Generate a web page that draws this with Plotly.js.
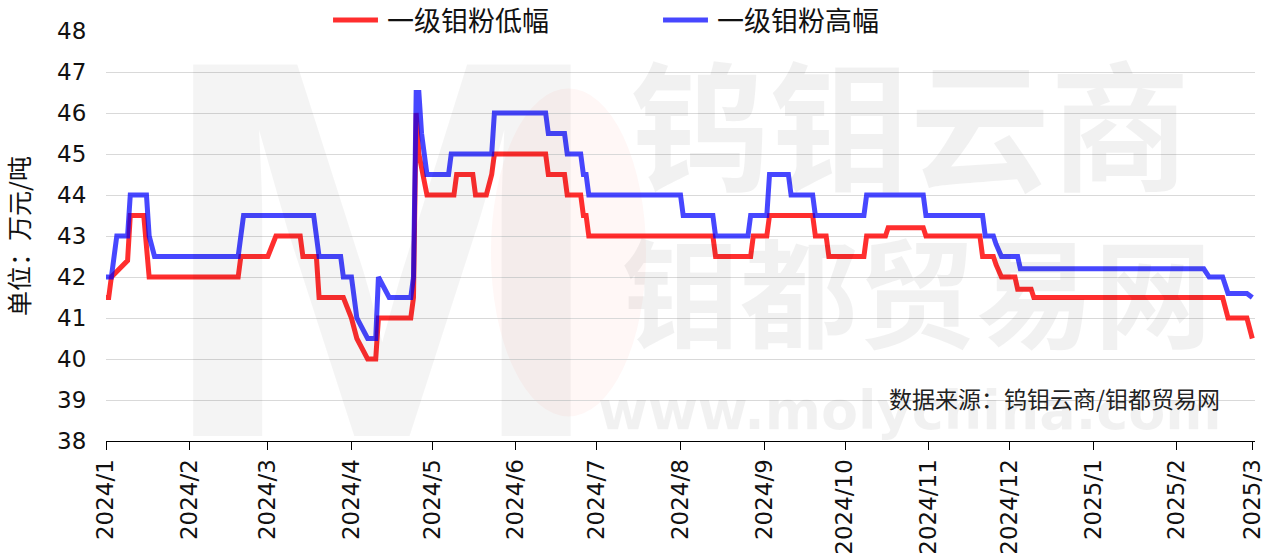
<!DOCTYPE html>
<html>
<head>
<meta charset="utf-8">
<script src="https://cdn.plot.ly/plotly-3.0.1.min.js"></script>
<style>
html,body{margin:0;padding:0;background:#fff;}
#chart{width:1269px;height:555px;}
</style>
</head>
<body>
<div id="chart"></div>
<script>
// ---- data ----
const lowName = "一级钼粉低幅";
const highName = "一级钼粉高幅";

const lowDates = ["2024-01-01","2024-01-02","2024-01-03","2024-01-09","2024-01-10","2024-01-15","2024-01-17","2024-02-19","2024-02-20","2024-03-01","2024-03-04","2024-03-13","2024-03-14","2024-03-19","2024-03-20","2024-03-29","2024-04-01","2024-04-03","2024-04-07","2024-04-10","2024-04-11","2024-04-23","2024-04-24","2024-04-25","2024-04-26","2024-04-29","2024-05-09","2024-05-10","2024-05-16","2024-05-17","2024-05-21","2024-05-23","2024-05-24","2024-06-12","2024-06-13","2024-06-19","2024-06-20","2024-06-25","2024-06-26","2024-06-27","2024-06-28","2024-08-13","2024-08-14","2024-08-27","2024-08-28","2024-09-02","2024-09-03","2024-09-19","2024-09-20","2024-09-24","2024-09-25","2024-10-08","2024-10-09","2024-10-16","2024-10-17","2024-10-30","2024-10-31","2024-11-20","2024-11-21","2024-11-25","2024-11-26","2024-11-28","2024-12-03","2024-12-04","2024-12-09","2024-12-10","2025-02-18","2025-02-20","2025-02-27","2025-03-01"];
const lowValues = [41.5,41.5,42.0,42.4,43.5,43.5,42.0,42.0,42.5,42.5,43.0,43.0,42.5,42.5,41.5,41.5,41.0,40.5,40.0,40.0,41.0,41.0,41.5,46.0,45.0,44.0,44.0,44.5,44.5,44.0,44.0,44.5,45.0,45.0,44.5,44.5,44.0,44.0,43.5,43.5,43.0,43.0,42.5,42.5,43.0,43.0,43.5,43.5,43.0,43.0,42.5,42.5,43.0,43.0,43.2,43.2,43.0,43.0,42.5,42.5,42.3,42.0,42.0,41.7,41.7,41.5,41.5,41.0,41.0,40.5];

const highDates = ["2024-01-01","2024-01-03","2024-01-05","2024-01-09","2024-01-10","2024-01-16","2024-01-17","2024-01-19","2024-02-19","2024-02-21","2024-03-18","2024-03-20","2024-03-28","2024-03-29","2024-04-01","2024-04-03","2024-04-07","2024-04-10","2024-04-11","2024-04-15","2024-04-23","2024-04-24","2024-04-25","2024-04-26","2024-04-27","2024-04-29","2024-05-07","2024-05-08","2024-05-23","2024-05-24","2024-06-12","2024-06-13","2024-06-19","2024-06-20","2024-06-25","2024-06-26","2024-06-27","2024-06-28","2024-08-01","2024-08-02","2024-08-13","2024-08-14","2024-08-26","2024-08-27","2024-09-02","2024-09-03","2024-09-10","2024-09-11","2024-09-19","2024-09-20","2024-10-08","2024-10-09","2024-10-30","2024-10-31","2024-11-21","2024-11-22","2024-11-25","2024-11-26","2024-11-28","2024-12-04","2024-12-05","2025-02-11","2025-02-13","2025-02-18","2025-02-20","2025-02-27","2025-03-01"];
const highValues = [42.0,42.0,43.0,43.0,44.0,44.0,43.0,42.5,42.5,43.5,43.5,42.5,42.5,42.0,42.0,41.0,40.5,40.5,42.0,41.5,41.5,42.0,46.5,46.5,45.5,44.5,44.5,45.0,45.0,46.0,46.0,45.5,45.5,45.0,45.0,44.5,44.5,44.0,44.0,43.5,43.5,43.0,43.0,43.5,43.5,44.5,44.5,44.0,44.0,43.5,43.5,44.0,44.0,43.5,43.5,43.0,43.0,42.8,42.5,42.5,42.2,42.2,42.0,42.0,41.6,41.6,41.5];

const tickDates = ["2024-01-01","2024-02-01","2024-03-01","2024-04-01","2024-05-01","2024-06-01","2024-07-01","2024-08-01","2024-09-01","2024-10-01","2024-11-01","2024-12-01","2025-01-01","2025-02-01","2025-03-01"];
const tickLabels = ["2024/1","2024/2","2024/3","2024/4","2024/5","2024/6","2024/7","2024/8","2024/9","2024/10","2024/11","2024/12","2025/1","2025/2","2025/3"];

const yTitle = "单位：万元/吨";
const sourceText = "数据来源：钨钼云商/钼都贸易网";
const wm1 = "钨钼云商", wm2 = "钼都贸易网", wm3 = "www.molychina.com";

// ---- chart ----
const CJK = "Noto Sans CJK SC, DejaVu Sans, sans-serif";
const NUM = "DejaVu Sans, Noto Sans CJK SC, sans-serif";
const wmColor = "rgba(0,0,0,0.055)";
const lowColor = "rgba(255,0,0,0.82)";
const highColor = "rgba(0,0,255,0.72)";

const traces = [
  {x: lowDates, y: lowValues, name: lowName, type: "scatter", mode: "lines", showlegend: false,
   line: {color: lowColor, width: 5}},
  {x: highDates, y: highValues, name: highName, type: "scatter", mode: "lines", showlegend: false,
   line: {color: highColor, width: 5}}
];

const legY = 1.027;
const layout = {
  width: 1269, height: 555,
  margin: {l: 106, r: 14, t: 31, b: 114},
  paper_bgcolor: "#fff", plot_bgcolor: "rgba(0,0,0,0)",
  showlegend: false,
  xaxis: {type: "date", range: ["2024-01-01", "2025-03-02"], tickvals: tickDates, ticktext: tickLabels,
          tickangle: -90, ticks: "outside", ticklen: 8, tickcolor: "#000", showline: true, linecolor: "#000",
          linewidth: 1, showgrid: false, zeroline: false, tickfont: {family: NUM, size: 23, color: "#111"}},
  yaxis: {range: [38, 48], dtick: 1, tick0: 38, showgrid: true, gridcolor: "#d9d9d9", gridwidth: 1,
          zeroline: false, showline: false, ticks: "outside", ticklen: 14, tickcolor: "rgba(0,0,0,0)",
          tickfont: {family: NUM, size: 23, color: "#111"},
          title: {text: yTitle, font: {family: CJK, size: 25, color: "#111"}, standoff: 22}},
  shapes: [
    {type: "circle", xref: "paper", yref: "paper", x0: 0.335, x1: 0.47, y0: 0.06, y1: 0.86,
     fillcolor: "rgba(255,60,40,0.045)", line: {width: 0}, layer: "below"},
    {type: "line", xref: "paper", yref: "paper", x0: 0.1976, x1: 0.2367, y0: legY, y1: legY,
     line: {color: lowColor, width: 5}},
    {type: "line", xref: "paper", yref: "paper", x0: 0.4848, x1: 0.5239, y0: legY, y1: legY,
     line: {color: highColor, width: 5}}
  ],
  annotations: [
    {text: "M", xref: "paper", yref: "paper", x: 0.24, y: 0.47, xanchor: "center", yanchor: "middle",
     showarrow: false, font: {family: "Liberation Sans Narrow, Liberation Sans, sans-serif", size: 540, color: "rgba(0,0,0,0.045)", weight: "bold"}},
    {text: wm1, xref: "paper", yref: "paper", x: 0.70, y: 0.785, xanchor: "center", yanchor: "middle",
     showarrow: false, font: {family: CJK, size: 140, color: wmColor, weight: "bold"}},
    {text: wm2, xref: "paper", yref: "paper", x: 0.706, y: 0.375, xanchor: "center", yanchor: "middle",
     showarrow: false, font: {family: CJK, size: 118, color: wmColor, weight: "bold"}},
    {text: wm3, xref: "paper", yref: "paper", x: 0.70, y: 0.075, xanchor: "center", yanchor: "middle",
     showarrow: false, font: {family: "DejaVu Sans, sans-serif", size: 54, color: wmColor, weight: "bold"}},
    {text: sourceText, xref: "paper", yref: "paper", x: 0.971, y: 0.105, xanchor: "right", yanchor: "middle",
     showarrow: false, font: {family: CJK, size: 23, color: "#222"}},
    {text: lowName, xref: "paper", yref: "paper", x: 0.2428, y: legY, xanchor: "left", yanchor: "middle",
     showarrow: false, font: {family: CJK, size: 27, color: "#111"}},
    {text: highName, xref: "paper", yref: "paper", x: 0.530, y: legY, xanchor: "left", yanchor: "middle",
     showarrow: false, font: {family: CJK, size: 27, color: "#111"}}
  ]
};

Plotly.newPlot("chart", traces, layout, {displayModeBar: false, staticPlot: true});
</script>
</body>
</html>
